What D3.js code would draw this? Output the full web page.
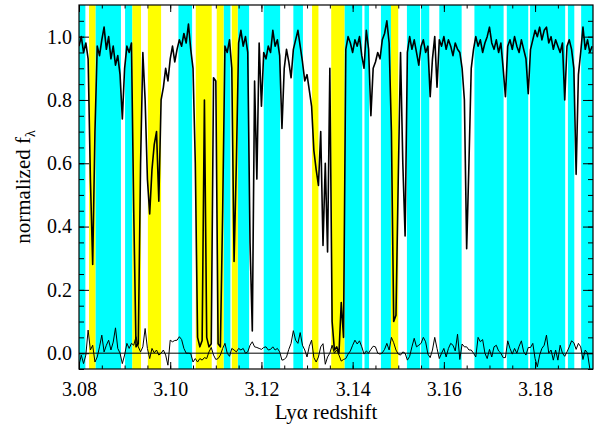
<!DOCTYPE html>
<html>
<head>
<meta charset="utf-8">
<script src="https://cdn.jsdelivr.net/npm/d3@7"></script>
<style>
    body { margin: 0; background: #fff; }
    text { font-family: "Liberation Serif", "Times New Roman", serif; }
</style>
</head>
<body>
<script>
// spectrum is sampled on a regular redshift grid
const zStart = 3.080;
const zStep = 0.0005;

const flux = [
    0.97, 1.00, 0.95, 0.98, 0.93, 0.55, 0.28, 0.70, 0.97, 0.94,
    0.99, 1.03, 0.96, 1.00, 0.93, 0.97, 0.91, 0.94, 0.88, 0.74,
    0.90, 0.97, 0.95, 0.98, 0.45, 0.02, 0.03, 0.60, 0.95, 0.80,
    0.55, 0.44, 0.58, 0.66, 0.70, 0.48, 0.80, 0.84, 0.90, 0.86,
    0.93, 0.97, 0.92, 0.96, 0.99, 0.97, 1.01, 0.98, 1.04, 0.96,
    0.90, 0.60, 0.05, 0.02, 0.04, 0.80, 0.05, 0.02, 0.03, 0.87,
    0.86, 0.03, 0.02, 0.45, 0.97, 0.95, 0.99, 0.90, 0.29, 0.60,
    0.98, 1.02, 0.97, 1.00, 0.95, 0.35, 0.07, 0.86, 0.55, 0.98,
    0.78, 0.95, 0.93, 0.97, 0.95, 1.02, 0.97, 0.99, 0.94, 0.71,
    0.90, 0.96, 0.92, 0.87, 0.96, 0.99, 1.02, 0.97, 0.92, 0.86,
    0.88, 0.83, 0.78, 0.64, 0.58, 0.53, 0.70, 0.34, 0.60, 0.32,
    0.90, 0.10, 0.01, 0.02, 0.00, 0.16, 0.05, 0.96, 1.00, 0.98,
    0.95, 0.99, 0.97, 1.00, 0.94, 0.90, 1.02, 0.96, 0.75, 0.90,
    0.92, 0.95, 0.93, 0.99, 1.01, 1.05, 0.98, 0.70, 0.10, 0.12,
    0.55, 0.95, 0.60, 0.37, 0.95, 1.00, 0.96, 0.99, 0.95, 0.91,
    0.97, 0.99, 0.95, 0.97, 0.81, 0.93, 1.00, 0.84, 0.99, 0.97,
    1.00, 0.96, 0.99, 0.97, 0.94, 0.98, 0.96, 0.95, 0.90, 0.80,
    0.33, 0.60, 0.90, 0.96, 1.00, 0.97, 0.99, 0.95, 0.98, 1.00,
    1.03, 0.98, 0.96, 0.99, 0.95, 0.98, 0.90, 0.81, 0.97, 0.99,
    0.96, 1.00, 0.97, 0.95, 0.99, 0.96, 0.93, 0.82, 0.96, 0.99,
    1.02, 1.00, 1.03, 0.99, 1.02, 1.03, 0.98, 1.00, 0.96, 0.99,
    0.97, 0.95, 0.98, 0.80, 0.97, 0.99, 0.96, 0.90, 0.565, 0.88,
    0.95, 1.03, 0.96, 0.99, 0.95, 0.97
];

const fluxErr = [
    -0.038, -0.006, -0.033, -0.006, 0.073, 0.010, 0.025, -0.028, -0.012, 0.020,
    0.057, 0.004, 0.025, 0.041, 0.010, 0.035, 0.080, 0.015, 0.000, -0.033,
    -0.006, 0.031, 0.015, 0.031, 0.025, 0.052, 0.020, 0.004, 0.020, 0.078,
    0.015, -0.017, 0.015, 0.001, 0.010, -0.006, 0.000, 0.010, -0.006, -0.038,
    0.041, 0.036, 0.040, 0.041, 0.052, 0.043, 0.015, 0.000, 0.000, -0.001,
    -0.028, -0.017, -0.028, -0.017, -0.022, -0.014, -0.017, 0.004, 0.018, -0.006,
    -0.020, -0.017, -0.006, 0.015, 0.031, 0.000, -0.010, 0.015, 0.010, 0.004,
    0.015, 0.010, 0.015, 0.000, 0.004, 0.025, 0.036, 0.020, 0.018, 0.015,
    0.012, 0.018, 0.020, 0.010, 0.012, 0.020, 0.010, 0.015, 0.004, -0.022,
    -0.020, -0.012, 0.012, 0.031, 0.071, 0.041, 0.031, 0.065, 0.025, 0.010,
    -0.012, 0.022, 0.041, -0.014, -0.028, -0.012, 0.020, 0.030, -0.035, -0.012,
    0.000, 0.025, 0.000, 0.010, -0.006, -0.025, -0.020, -0.017, -0.003, 0.007,
    0.025, 0.041, 0.029, 0.039, 0.020, -0.003, 0.007, 0.000, 0.012, 0.022,
    0.020, 0.000, -0.003, 0.001, 0.012, 0.031, 0.010, 0.050, 0.033, 0.010,
    -0.003, -0.006, 0.004, 0.000, -0.022, -0.010, 0.020, 0.047, 0.020, 0.025,
    0.031, 0.050, 0.036, -0.003, -0.014, 0.010, 0.050, 0.015, -0.017, 0.000,
    0.015, -0.012, 0.015, 0.031, 0.025, 0.007, 0.060, -0.020, 0.029, 0.020,
    0.020, 0.010, 0.010, 0.000, -0.012, 0.050, 0.036, 0.043, 0.000, -0.017,
    0.012, -0.012, 0.020, 0.025, 0.007, 0.000, -0.014, -0.014, 0.039, 0.015,
    -0.003, 0.015, 0.000, 0.022, 0.039, 0.004, -0.006, 0.018, 0.018, 0.031,
    -0.017, -0.043, -0.006, 0.015, 0.025, 0.057, 0.000, 0.010, -0.022, 0.010,
    -0.022, 0.025, 0.000, -0.010, 0.004, 0.020, 0.039, 0.033, 0.012, 0.031,
    0.020, -0.020, 0.010, 0.000, -0.049, -0.060
];

// masked redshift windows [from, to]
const cyanBands = [
    [3.0800, 3.0814], [3.0836, 3.0892], [3.0901, 3.0917], [3.1018, 3.1048],
    [3.1117, 3.1132], [3.1148, 3.1173], [3.1205, 3.1241], [3.1270, 3.1291],
    [3.1382, 3.1421], [3.1426, 3.1436], [3.1462, 3.1484], [3.1519, 3.1548],
    [3.1550, 3.1568], [3.1590, 3.1639], [3.1667, 3.1731], [3.1738, 3.1785],
    [3.1789, 3.1866], [3.1872, 3.1886], [3.1901, 3.1930]
];
const yellowBands = [
    [3.0822, 3.0836], [3.0917, 3.0936], [3.0951, 3.0980], [3.1056, 3.1091],
    [3.1102, 3.1117], [3.1135, 3.1148], [3.1311, 3.1325], [3.1353, 3.1382],
    [3.1484, 3.1500]
];

const xTicks = [3.08, 3.10, 3.12, 3.14, 3.16, 3.18];
const yTicks = [0.0, 0.2, 0.4, 0.6, 0.8, 1.0];
const xDomain = [3.08, 3.1927];
const yDomain = [-0.05, 1.1];

let margin = {top: 5, right: 7, bottom: 56, left: 79},
    width = 600 - margin.left - margin.right,
    height = 425 - margin.top - margin.bottom;

let svg = d3.select("body")
    .append("svg")
    .attr("width", width + margin.left + margin.right)
    .attr("height", height + margin.top + margin.bottom)
    .append("g")
    .attr("transform", "translate(" + margin.left + "," + margin.top + ")");

let x = d3.scaleLinear().domain(xDomain).range([0, width]);
let y = d3.scaleLinear().domain(yDomain).range([height, 0]);

svg.append("clipPath").attr("id", "plot-clip")
    .append("rect").attr("width", width).attr("height", height);

let plot = svg.append("g").attr("clip-path", "url(#plot-clip)");

// bands
plot.selectAll(".cyan")
    .data(cyanBands)
    .enter()
    .append("rect")
    .attr("x", d => x(d[0]))
    .attr("width", d => x(d[1]) - x(d[0]))
    .attr("y", 0)
    .attr("height", height)
    .attr("fill", "#00ffff");

plot.selectAll(".yellow")
    .data(yellowBands)
    .enter()
    .append("rect")
    .attr("x", d => x(d[0]))
    .attr("width", d => x(d[1]) - x(d[0]))
    .attr("y", 0)
    .attr("height", height)
    .attr("fill", "#ffff00");

// zero line
plot.append("line")
    .attr("x1", 0).attr("x2", width)
    .attr("y1", y(0)).attr("y2", y(0))
    .attr("stroke", "black")
    .attr("stroke-width", 1);

let line = d3.line()
    .x((d, i) => x(zStart + i * zStep))
    .y(d => y(d));

plot.append("path")
    .datum(fluxErr)
    .attr("d", line)
    .attr("fill", "none")
    .attr("stroke", "black")
    .attr("stroke-width", 1);

plot.append("path")
    .datum(flux)
    .attr("d", line)
    .attr("fill", "none")
    .attr("stroke", "black")
    .attr("stroke-width", 1.6)
    .attr("stroke-linejoin", "round");

// axes, ticks pointing inwards like IDL
let xMinor = d3.range(3.08, 3.19, 0.005);
let yMinor = d3.range(-0.05, 1.1, 0.05);

function styleAxis(g) {
    g.select(".domain").remove();
    g.selectAll("line").attr("stroke", "black");
    g.selectAll("text")
        .attr("fill", "black")
        .style("font-size", "20px")
        .style("font-family", "'Liberation Serif', 'Times New Roman', serif");
}

svg.append("g")
    .attr("transform", "translate(0," + height + ")")
    .call(d3.axisBottom(x).tickValues(xTicks).tickFormat(d3.format(".2f")).tickSize(-7).tickPadding(13))
    .call(styleAxis);
svg.append("g")
    .attr("transform", "translate(0," + height + ")")
    .call(d3.axisBottom(x).tickValues(xMinor).tickFormat("").tickSize(-3.5))
    .call(styleAxis);
svg.append("g")
    .call(d3.axisTop(x).tickValues(xTicks).tickFormat("").tickSize(-7))
    .call(styleAxis);
svg.append("g")
    .call(d3.axisTop(x).tickValues(xMinor).tickFormat("").tickSize(-3.5))
    .call(styleAxis);

svg.append("g")
    .call(d3.axisLeft(y).tickValues(yTicks).tickFormat(d3.format(".1f")).tickSize(-10).tickPadding(7))
    .call(styleAxis);
svg.append("g")
    .call(d3.axisLeft(y).tickValues(yMinor).tickFormat("").tickSize(-5))
    .call(styleAxis);
svg.append("g")
    .attr("transform", "translate(" + width + ",0)")
    .call(d3.axisRight(y).tickValues(yTicks).tickFormat("").tickSize(-10))
    .call(styleAxis);
svg.append("g")
    .attr("transform", "translate(" + width + ",0)")
    .call(d3.axisRight(y).tickValues(yMinor).tickFormat("").tickSize(-5))
    .call(styleAxis);

svg.append("rect")
    .attr("width", width)
    .attr("height", height)
    .attr("fill", "none")
    .attr("stroke", "black")
    .attr("stroke-width", 1.2);

// titles
svg.append("text")
    .attr("x", width / 2 - 10)
    .attr("y", height + 50)
    .style("text-anchor", "middle")
    .style("font-size", "21px")
    .text("Lyα redshift");

let yt = svg.append("text")
    .attr("transform", "translate(-49," + (height / 2) + ")rotate(-90)")
    .style("text-anchor", "middle")
    .style("font-size", "21px");
yt.append("tspan").text("normalized f");
yt.append("tspan").attr("dy", 5).style("font-size", "14px").text("λ");
</script>
</body>
</html>
